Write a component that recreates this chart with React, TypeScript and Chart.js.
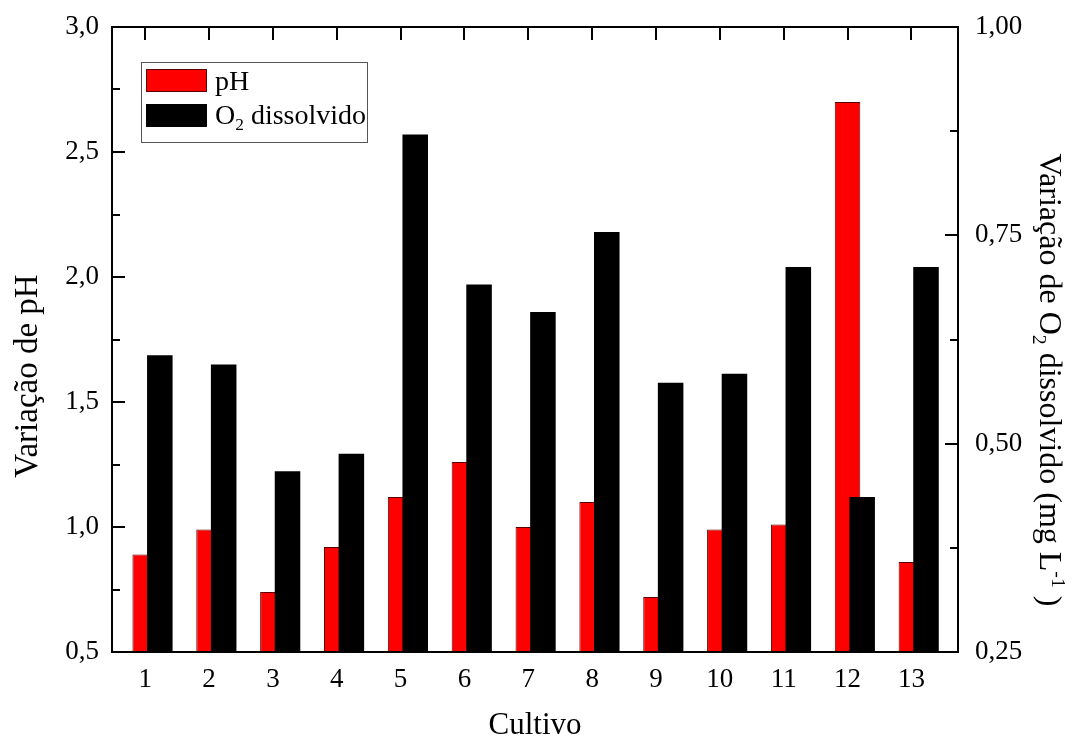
import { useEffect, useRef } from "react";
import { Chart, registerables } from "chart.js";

Chart.register(...registerables);

// Cultivation runs (x axis categories)
const CULTIVOS = [1, 2, 3, 4, 5, 6, 7, 8, 9, 10, 11, 12, 13];
// pH variation per run (left axis)
const PH_VARIACAO = [0.89, 0.99, 0.74, 0.92, 1.12, 1.26, 1.0, 1.1, 0.72, 0.99, 1.01, 2.7, 0.86];
// Dissolved O2 variation per run, mg/L (right axis)
const O2_VARIACAO = [0.606, 0.595, 0.467, 0.488, 0.871, 0.691, 0.658, 0.754, 0.573, 0.584, 0.712, 0.436, 0.712];
// Axis ranges and labelled ticks
const PH_TICKS = [0.5, 1.0, 1.5, 2.0, 2.5, 3.0];
const O2_TICKS = [0.25, 0.5, 0.75, 1.0];
const X_RANGE = [0.48, 13.73];
// The O2 bars sit slightly to the right of each run, overlapping the pH bar
const O2_BAR_SHIFT = 0.229;

const SERIF = '"Liberation Serif", "Times New Roman", serif';
const TICK_FONT = 27;
const TITLE_FONT = 32;
const LEGEND_FONT = 28;

type Part = { text: string; mode?: "sub" | "sup" };

function partSize(p: Part, size: number) {
  return p.mode ? size * 0.62 : size;
}

function richWidth(ctx: CanvasRenderingContext2D, parts: Part[], size: number) {
  let w = 0;
  for (const p of parts) {
    ctx.font = `${partSize(p, size)}px ${SERIF}`;
    w += ctx.measureText(p.text).width;
  }
  return w;
}

function drawRich(
  ctx: CanvasRenderingContext2D,
  parts: Part[],
  x: number,
  y: number,
  size: number,
  align: "left" | "center"
) {
  const total = richWidth(ctx, parts, size);
  let cx = align === "center" ? x - total / 2 : x;
  ctx.textAlign = "left";
  ctx.textBaseline = "alphabetic";
  ctx.fillStyle = "#000";
  for (const p of parts) {
    ctx.font = `${partSize(p, size)}px ${SERIF}`;
    const dy = p.mode === "sub" ? size * 0.22 : p.mode === "sup" ? -size * 0.38 : 0;
    ctx.fillText(p.text, cx, y + dy);
    cx += ctx.measureText(p.text).width;
  }
}

const TITLE_PH: Part[] = [{ text: "Variação de pH" }];
const TITLE_O2: Part[] = [
  { text: "Variação de O" },
  { text: "2", mode: "sub" },
  { text: " dissolvido (mg L" },
  { text: "-1", mode: "sup" },
  { text: " )" },
];
const TITLE_X: Part[] = [{ text: "Cultivo" }];
const LEGEND_PH: Part[] = [{ text: "pH" }];
const LEGEND_O2: Part[] = [{ text: "O" }, { text: "2", mode: "sub" }, { text: " dissolvido" }];

const RED = "#ff0000";
const RED_EDGE = "#5a0000";

function midpoints(vals: number[]) {
  const out: number[] = [];
  for (let i = 0; i < vals.length - 1; i++) out.push((vals[i] + vals[i + 1]) / 2);
  return out;
}

// Frame, inward ticks, axis titles and the boxed legend
const decorations = {
  id: "originStyleFrame",
  beforeDatasetsDraw(chart: any) {
    const { ctx, chartArea: a, scales } = chart;
    ctx.save();
    ctx.strokeStyle = "#000";
    ctx.lineWidth = 2;
    ctx.beginPath();
    for (const c of CULTIVOS) {
      const px = Math.round(scales.x.getPixelForValue(c));
      ctx.moveTo(px, a.bottom);
      ctx.lineTo(px, a.bottom - 13);
    }
    ctx.stroke();
    ctx.restore();
  },
  afterDatasetsDraw(chart: any) {
    const { ctx, chartArea: a, scales } = chart;
    ctx.save();
    ctx.strokeStyle = "#000";
    ctx.lineWidth = 2;
    ctx.beginPath();
    // top axis ticks
    for (const c of CULTIVOS) {
      const px = Math.round(scales.x.getPixelForValue(c));
      ctx.moveTo(px, a.top);
      ctx.lineTo(px, a.top + 13);
    }
    // left axis
    for (const v of PH_TICKS) {
      const py = Math.round(scales.y.getPixelForValue(v));
      ctx.moveTo(a.left, py);
      ctx.lineTo(a.left + 13, py);
    }
    for (const v of midpoints(PH_TICKS)) {
      const py = Math.round(scales.y.getPixelForValue(v));
      ctx.moveTo(a.left, py);
      ctx.lineTo(a.left + 8, py);
    }
    // right axis
    for (const v of O2_TICKS) {
      const py = Math.round(scales.y1.getPixelForValue(v));
      ctx.moveTo(a.right, py);
      ctx.lineTo(a.right - 13, py);
    }
    for (const v of midpoints(O2_TICKS)) {
      const py = Math.round(scales.y1.getPixelForValue(v));
      ctx.moveTo(a.right, py);
      ctx.lineTo(a.right - 8, py);
    }
    ctx.stroke();
    ctx.strokeRect(a.left, a.top, a.right - a.left, a.bottom - a.top);
    ctx.restore();
  },
  afterDraw(chart: any) {
    const { ctx, chartArea: a } = chart;
    ctx.save();

    // axis titles
    ctx.save();
    ctx.translate(37, 376);
    ctx.rotate(-Math.PI / 2);
    drawRich(ctx, TITLE_PH, 0, 0, 33, "center");
    ctx.restore();

    ctx.save();
    ctx.translate(1040, 380);
    ctx.rotate(Math.PI / 2);
    drawRich(ctx, TITLE_O2, 0, 0, TITLE_FONT, "center");
    ctx.restore();

    drawRich(ctx, TITLE_X, (a.left + a.right) / 2, 734, 31, "center");

    // legend box
    const lx = a.left + 29;
    const ly = a.top + 35;
    ctx.fillStyle = "#fff";
    ctx.fillRect(lx, ly, 226, 80);
    ctx.strokeStyle = "#555";
    ctx.lineWidth = 1;
    ctx.strokeRect(lx + 0.5, ly + 0.5, 226, 80);

    ctx.fillStyle = RED;
    ctx.fillRect(lx + 5, ly + 7, 61, 23);
    ctx.strokeStyle = RED_EDGE;
    ctx.strokeRect(lx + 5.5, ly + 7.5, 60, 22);
    ctx.fillStyle = "#000";
    ctx.fillRect(lx + 5, ly + 42, 61, 23);

    drawRich(ctx, LEGEND_PH, lx + 74, ly + 28, LEGEND_FONT, "left");
    drawRich(ctx, LEGEND_O2, lx + 74, ly + 62, LEGEND_FONT, "left");

    ctx.restore();
  },
};

const commaFmt = (digits: number) => (v: any) => Number(v).toFixed(digits).replace(".", ",");

export default function App() {
  const canvasRef = useRef<HTMLCanvasElement | null>(null);

  useEffect(() => {
    document.body.style.margin = "0";
    const canvas = canvasRef.current;
    if (!canvas) return;

    const categoryTicks = (scale: any) => {
      scale.ticks = CULTIVOS.map((v) => ({ value: v }));
    };
    const fitVertical = (width: number) => (s: any) => {
      s.width = width;
      s.paddingTop = 0;
      s.paddingBottom = 0;
    };

    const chart = new Chart(canvas, {
      type: "bar",
      data: {
        datasets: [
          {
            label: "pH",
            data: CULTIVOS.map((c, i) => ({ x: c, y: PH_VARIACAO[i] })),
            xAxisID: "x",
            yAxisID: "y",
            backgroundColor: RED,
            borderColor: RED_EDGE,
            borderWidth: 1,
            order: 2,
            grouped: false,
            categoryPercentage: 1,
            barPercentage: 0.4,
          } as any,
          {
            label: "O2 dissolvido",
            data: CULTIVOS.map((c, i) => ({ x: c, y: O2_VARIACAO[i] })),
            xAxisID: "xO2",
            yAxisID: "y1",
            backgroundColor: "#000",
            borderWidth: 0,
            order: 1,
            grouped: false,
            categoryPercentage: 1,
            barPercentage: 0.4,
          } as any,
        ],
      },
      options: {
        responsive: false,
        animation: false,
        devicePixelRatio: 1,
        layout: { padding: { top: 27, left: 0, right: 0, bottom: 0 } },
        plugins: {
          legend: { display: false },
          tooltip: { enabled: false },
        },
        scales: {
          x: {
            type: "linear",
            position: "bottom",
            min: X_RANGE[0],
            max: X_RANGE[1],
            offset: false,
            afterBuildTicks: categoryTicks,
            afterFit: (s: any) => {
              s.height = 85;
              s.paddingLeft = 0;
              s.paddingRight = 0;
            },
            grid: { display: false, drawTicks: false },
            border: { display: false },
            ticks: {
              padding: 12,
              color: "#000",
              font: { family: SERIF, size: TICK_FONT },
              callback: (v: any) => String(v),
              maxRotation: 0,
              autoSkip: false,
            },
          },
          xO2: {
            type: "linear",
            display: false,
            min: X_RANGE[0] - O2_BAR_SHIFT,
            max: X_RANGE[1] - O2_BAR_SHIFT,
            offset: false,
            afterBuildTicks: categoryTicks,
          },
          y: {
            type: "linear",
            position: "left",
            min: PH_TICKS[0],
            max: PH_TICKS[PH_TICKS.length - 1],
            afterBuildTicks: (s: any) => {
              s.ticks = PH_TICKS.map((v) => ({ value: v }));
            },
            afterFit: fitVertical(112),
            grid: { display: false, drawTicks: false },
            border: { display: false },
            ticks: {
              padding: 13,
              color: "#000",
              font: { family: SERIF, size: TICK_FONT },
              callback: commaFmt(1),
            },
          },
          y1: {
            type: "linear",
            position: "right",
            min: O2_TICKS[0],
            max: O2_TICKS[O2_TICKS.length - 1],
            afterBuildTicks: (s: any) => {
              s.ticks = O2_TICKS.map((v) => ({ value: v }));
            },
            afterFit: fitVertical(114),
            grid: { display: false, drawTicks: false },
            border: { display: false },
            ticks: {
              padding: 17,
              color: "#000",
              font: { family: SERIF, size: TICK_FONT },
              callback: commaFmt(2),
            },
          },
        },
      } as any,
      plugins: [decorations],
    });

    return () => chart.destroy();
  }, []);

  return (
    <div style={{ width: 1072, height: 737, background: "#fff" }}>
      <canvas ref={canvasRef} width={1072} height={737} style={{ display: "block" }} />
    </div>
  );
}
